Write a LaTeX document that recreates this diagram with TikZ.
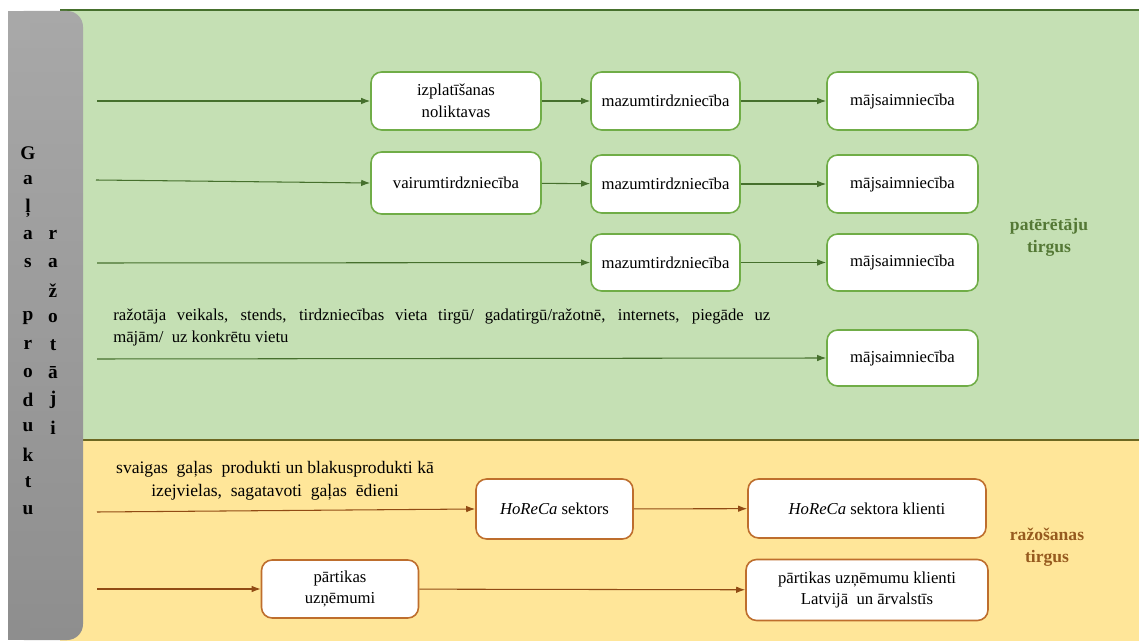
\documentclass[tikz,border=0pt]{standalone}
\usepackage{fontspec}
\setmainfont{Liberation Serif}
\usepackage{tikz}
\usetikzlibrary{arrows.meta,positioning,calc}
\definecolor{marketGreen}{RGB}{197,224,180}
\definecolor{marketYellow}{RGB}{255,230,153}
\definecolor{edgeGreen}{RGB}{112,173,71}
\definecolor{arrowGreen}{RGB}{70,112,45}
\definecolor{labelGreen}{RGB}{84,120,53}
\definecolor{edgeBrown}{RGB}{190,110,45}
\definecolor{arrowBrown}{RGB}{145,75,20}
\definecolor{labelBrown}{RGB}{150,90,30}
\definecolor{barGreyTop}{RGB}{168,168,168}
\definecolor{barGreyBot}{RGB}{142,142,142}

\begin{document}
\begin{tikzpicture}[x=0.02cm,y=-0.02cm,font=\fontsize{9.5}{12.5}\selectfont,
  gbox/.style={draw=edgeGreen,line width=0.9pt,fill=white,rounded corners=6pt,align=center,minimum width=2.98cm,minimum height=1.16cm,inner sep=2pt},
  ybox/.style={draw=edgeBrown,line width=0.9pt,fill=white,rounded corners=6pt,align=center,minimum width=3.14cm,minimum height=1.2cm,inner sep=2pt},
  garr/.style={-{Latex[length=1.8mm,width=1.3mm]},draw=arrowGreen,line width=0.6pt},
  yarr/.style={-{Latex[length=1.8mm,width=1.3mm]},draw=arrowBrown,line width=0.6pt},
  barletter/.style={font=\fontsize{11}{11}\selectfont\bfseries,inner sep=0pt}]
  \useasboundingbox (0,0) rectangle (1139,641);
  % background bands
  \fill[marketGreen] (60,10) rectangle (1139,440);
  \fill[marketYellow] (60,440) rectangle (1139,641);
  \draw[arrowGreen,line width=0.8pt] (60,10) -- (1139,10);
  \draw[black!30!olive,line width=1pt] (60,440) -- (1139,440);
  \shade[top color=barGreyTop,bottom color=barGreyBot,rounded corners=9pt]
    (8,11) -- (83,11) -- (83,640) -- (8,640) -- cycle;
  \fill[barGreyTop] (8,11) rectangle (30,40);
  \fill[barGreyBot] (8,620) rectangle (30,640);
  % vertical letters
  \foreach \l [count=\i] in {G,a,ļ,a,s,{},p,r,o,d,u,k,t,u}
    \node[barletter] (gp\i) at (28,{153+(\i-1)*27.45}) {\l};
  \foreach \l [count=\i] in {r,a,ž,o,t,ā,j,i}
    \node[barletter] (rz\i) at (53,{153+(\i+2)*27.45}) {\l};

  % consumer market
  \node[gbox,minimum width=3.4cm] (izpl) at (456,101) {izplatīšanas\\noliktavas};
  \node[gbox,minimum width=3.4cm,minimum height=1.24cm] (vair) at (456,183) {vairumtirdzniecība};
  \node[gbox] (maz1) at (665.5,101) {mazumtirdzniecība};
  \node[gbox] (maz2) at (665.5,184) {mazumtirdzniecība};
  \node[gbox,minimum height=1.14cm] (maz3) at (665.5,262.5) {mazumtirdzniecība};
  \node[gbox,minimum width=3.02cm] (maj1) at (902.5,101) {mājsaimniecība};
  \node[gbox,minimum width=3.02cm] (maj2) at (902.5,184) {mājsaimniecība};
  \node[gbox,minimum width=3.02cm,minimum height=1.14cm] (maj3) at (902.5,262.5) {mājsaimniecība};
  \node[gbox,minimum width=3.02cm,minimum height=1.12cm] (maj4) at (902.5,358) {mājsaimniecība};
  \coordinate (s1) at (97,101);
  \coordinate (s2) at (96,180);
  \coordinate (s3) at (97,263);
  \coordinate (s4) at (97,359);
  \draw[garr] (s1) -- (izpl);
  \draw[garr] (izpl) -- (maz1);
  \draw[garr] (maz1) -- (maj1);
  \draw[garr] (s2) -- (vair.west);
  \draw[garr] (vair) -- (maz2);
  \draw[garr] (maz2) -- (maj2);
  \draw[garr] (s3) -- (maz3);
  \draw[garr] (maz3) -- (maj3);
  \draw[garr] (s4) -- (maj4.west);
  \node[anchor=north west,align=justify,text width=13.14cm,inner sep=0pt] (veik) at (113,309)
    {ražotāja veikals, stends, tirdzniecības vieta tirgū/ gadatirgū/ražotnē, internets, piegāde uz\linebreak mājām/\ \ uz konkrētu vietu};
  \node[font=\fontsize{10}{12.5}\selectfont\bfseries,text=labelGreen,align=center] (pat) at (1049,237) {patērētāju\\tirgus};

  % production market
  \node[ybox] (hrc) at (554.5,509) {\textit{HoReCa} sektors};
  \node[ybox,minimum width=4.76cm,minimum height=1.18cm] (hrckl) at (867,508.5) {\textit{HoReCa} sektora klienti};
  \node[ybox,minimum height=1.16cm] (part) at (340,589) {pārtikas\\uzņēmumi};
  \node[ybox,minimum width=4.84cm,minimum height=1.22cm] (partkl) at (867,590) {pārtikas uzņēmumu klienti\\Latvijā\ \ un ārvalstīs};
  \coordinate (s5) at (97,512);
  \coordinate (s6) at (97,589);
  \draw[yarr] (s5) -- (hrc.west);
  \draw[yarr] (hrc) -- (hrckl);
  \draw[yarr] (s6) -- (part.west);
  \draw[yarr] (part) -- (partkl);
  \node[align=center,inner sep=0pt,font=\fontsize{10}{12.8}\selectfont] (svaig) at (275,481)
    {svaigas\ \ gaļas\ \ produkti un blakusprodukti kā\\izejvielas,\ \ sagatavoti\ \ gaļas\ \ ēdieni};
  \node[font=\fontsize{10}{12.5}\selectfont\bfseries,text=labelBrown,align=center] (razo) at (1047,547) {ražošanas\\tirgus};
\end{tikzpicture}
\end{document}
